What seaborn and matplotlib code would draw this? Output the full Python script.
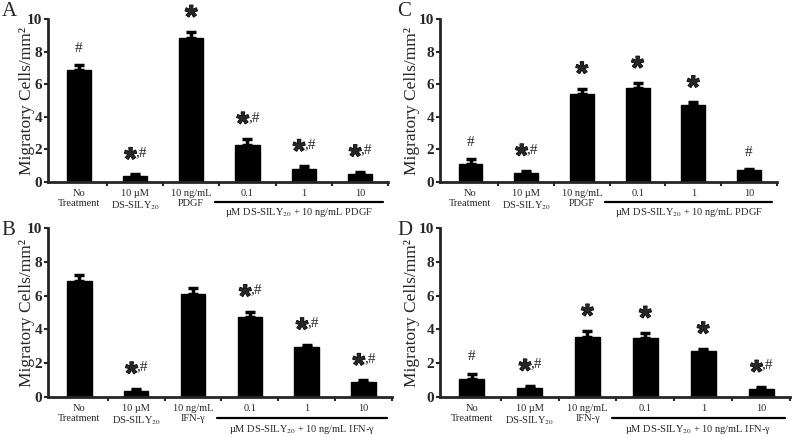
import numpy as np
import matplotlib.pyplot as plt
import matplotlib.patheffects as pe
import seaborn as sns

# bar heights (cells/mm^2) and upper error
tick_pdgf = ["No\nTreatment", "10 µM\nDS-SILY$_{20}$", "10 ng/mL\nPDGF", "0.1", "1", "10"]
tick_ifn = ["No\nTreatment", "10 µM\nDS-SILY$_{20}$", "10 ng/mL\nIFN-γ", "0.1", "1", "10"]
group_pdgf = "µM DS-SILY$_{20}$ + 10 ng/mL PDGF"
group_ifn = "µM DS-SILY$_{20}$ + 10 ng/mL IFN-γ"

vals_a = [6.85, 0.35, 8.85, 2.3, 0.82, 0.5]
err_a = [0.33, 0.12, 0.35, 0.35, 0.15, 0.14]
sig_a = ["#", "*,#", "*", "*,#", "*,#", "*,#"]

vals_c = [1.08, 0.57, 5.4, 5.75, 4.75, 0.72]
err_c = [0.33, 0.12, 0.33, 0.32, 0.13, 0.1]
sig_c = ["#", "*,#", "*", "*", "*", "#"]

vals_b = [6.87, 0.36, 6.08, 4.72, 2.97, 0.86]
err_b = [0.37, 0.12, 0.35, 0.33, 0.12, 0.12]
sig_b = ["", "*,#", "", "*,#", "*,#", "*,#"]

vals_d = [1.05, 0.55, 3.55, 3.48, 2.7, 0.48]
err_d = [0.33, 0.1, 0.35, 0.3, 0.15, 0.1]
sig_d = ["#", "*,#", "*", "*", "*", "*,#"]

sns.set_style("ticks")
plt.rcParams['font.family'] = ['Liberation Serif', 'DejaVu Serif']
plt.rcParams['mathtext.fontset'] = 'stix'

fig = plt.figure(figsize=(7.94, 4.37), dpi=100)
thick = [pe.withStroke(linewidth=0.8, foreground="black")]


def star(ax, x, yc, ha):
    # asterisk glyph sits high in the em box, shift baseline down
    ax.text(x, yc - 1.3, "*", ha=ha, va="baseline", fontsize=23,
            family="Liberation Sans", fontweight="bold", path_effects=thick)


def panel(rect, vals, errs, sigs, ticks, group, letter, letter_xy, ylab_x):
    ax = fig.add_axes(rect)
    x = np.arange(len(vals))
    sns.barplot(x=ticks, y=vals, color="black", width=0.43, ax=ax,
                saturation=1, edgecolor="black")
    ax.errorbar(x, vals, yerr=[np.zeros(len(vals)), errs], fmt="none",
                ecolor="black", elinewidth=2.5, capsize=3.5, capthick=2.5)
    ax.set_xlim(-0.55, 5.5)
    ax.set_ylim(0, 10)
    ax.set_yticks([0, 2, 4, 6, 8, 10])
    ax.set_yticklabels(["0", "2", "4", "6", "8", "10"], fontsize=11, fontweight="bold")
    ax.set_xticks(x)
    ax.set_xticklabels(ticks, fontsize=7.5, linespacing=1.15)
    ax.tick_params(axis="x", which="major", length=0, pad=5)
    ax.set_xticks(np.arange(0.5, 5.6, 1.0), minor=True)
    ax.tick_params(axis="x", which="minor", length=3, width=1.5, direction="out")
    ax.tick_params(axis="y", length=3, width=1.5, pad=1)
    sns.despine(ax=ax)
    for s in ["left", "bottom"]:
        ax.spines[s].set_linewidth(2)
    ax.set_ylabel("Migratory Cells/mm²", fontsize=12.5)
    ax.yaxis.set_label_coords(ylab_x, 0.5)

    # significance marks
    for i, s in enumerate(sigs):
        top = vals[i] + errs[i]
        if s == "*":
            star(ax, i, top + 1.6, "center")
        elif s == "#":
            ax.text(i, top + 1.1 - 0.3, "#", ha="center", va="baseline", fontsize=11)
        elif s == "*,#":
            star(ax, i + 0.03, top + 1.6, "right")
            ax.text(i + 0.01, top + 1.6 - 0.5, ",#", ha="left", va="baseline", fontsize=11)

    # grouping line under the last three bars
    tr = ax.get_xaxis_transform()
    ax.plot([2.42, 5.42], [-0.125, -0.125], color="black", lw=1.6,
            transform=tr, clip_on=False)
    ax.text(3.92, -0.19, group, ha="center", va="center", fontsize=7.5,
            transform=tr)
    fig.text(letter_xy[0], letter_xy[1], letter, fontsize=15, ha="left", va="top")
    return ax


panel([0.0605, 0.5835, 0.428, 0.373], vals_a, err_a, sig_a, tick_pdgf, group_pdgf,
      "A", (0.002, 0.995), -0.038)
panel([0.554, 0.5835, 0.4244, 0.373], vals_c, err_c, sig_c, tick_pdgf, group_pdgf,
      "C", (0.5, 0.995), -0.058)
panel([0.0605, 0.0915, 0.433, 0.3867], vals_b, err_b, sig_b, tick_ifn, group_ifn,
      "B", (0.002, 0.495), -0.038)
panel([0.554, 0.0915, 0.441, 0.3867], vals_d, err_d, sig_d, tick_ifn, group_ifn,
      "D", (0.5, 0.495), -0.058)

fig.savefig("out.png", dpi=100)
plt.close(fig)
